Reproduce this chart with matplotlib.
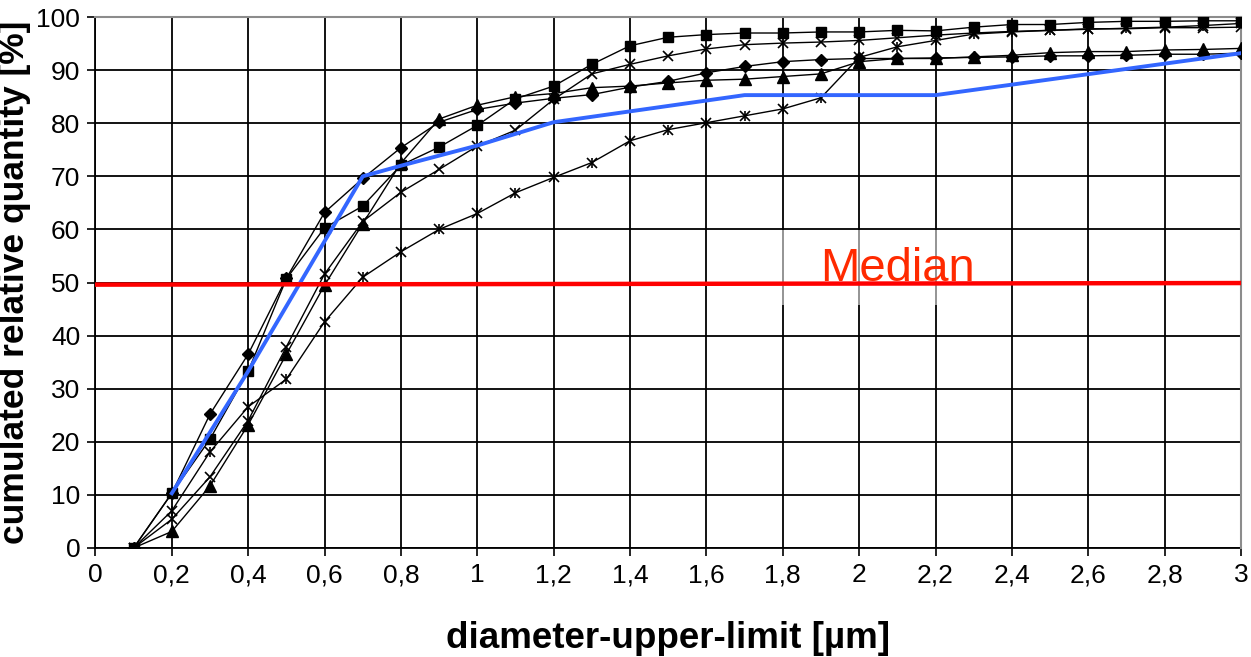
import matplotlib
matplotlib.use("Agg")
import matplotlib.pyplot as plt
from matplotlib.patches import Rectangle
from matplotlib.ticker import MultipleLocator, FuncFormatter

plt.rcParams['font.family'] = ['Liberation Sans', 'DejaVu Sans']

# Durchmesser-Obergrenzen [µm]
diameter = [0.1, 0.2, 0.3, 0.4, 0.5, 0.6, 0.7, 0.8, 0.9, 1.0,
            1.1, 1.2, 1.3, 1.4, 1.5, 1.6, 1.7, 1.8, 1.9, 2.0,
            2.1, 2.2, 2.3, 2.4, 2.5, 2.6, 2.7, 2.8, 2.9, 3.0]

# kumulierte Anteile [%] der einzelnen Messreihen
diamond_vals = [0, 10.3, 25.2, 36.5, 50.8, 63.2, 69.6, 75.4, 80.2, 82.6,
                83.8, 84.7, 85.4, 86.8, 87.9, 89.5, 90.7, 91.6, 92.0, 92.2,
                92.2, 92.3, 92.4, 92.5, 92.7, 92.7, 92.8, 93.0, 93.0, 93.2]
square_vals = [0, 10.3, 20.5, 33.3, 50.7, 60.3, 64.4, 72.1, 75.5, 79.6,
               84.6, 87.0, 91.1, 94.6, 96.2, 96.7, 97.0, 97.0, 97.2, 97.2,
               97.5, 97.4, 98.1, 98.6, 98.6, 99.0, 99.2, 99.2, 99.3, 99.3]
triangle_vals = [0, 3.1, 11.7, 23.2, 36.5, 49.5, 61.1, 72.5, 80.8, 83.4,
                 85.0, 85.6, 86.7, 87.0, 87.6, 88.1, 88.3, 88.8, 89.3, 91.6,
                 92.2, 92.2, 92.5, 92.8, 93.3, 93.5, 93.5, 93.8, 93.9, 94.1]
cross_vals = [0, 5.4, 13.4, 24.0, 37.9, 51.6, 61.5, 67.0, 71.3, 75.7,
              78.7, 84.5, 89.3, 91.1, 92.7, 94.0, 94.8, 95.1, 95.3, 95.6,
              96.1, 96.6, 97.0, 97.3, 97.5, 97.8, 97.8, 98.0, 98.0, 98.1]
star_vals = [0, 7.0, 18.1, 26.6, 31.8, 42.6, 51.0, 55.8, 60.0, 63.0,
             66.9, 69.8, 72.6, 76.7, 78.8, 80.1, 81.4, 82.7, 84.8, 92.4,
             94.4, 95.6, 96.8, 97.2, 97.5, 97.7, 97.9, 98.1, 98.4, 98.8]

# Mittelwertkurve (blau)
mean_x = [0.2, 0.4, 0.7, 0.8, 1.0, 1.2, 1.7, 2.2, 3.0]
mean_y = [10.3, 33.3, 70.0, 72.0, 75.8, 80.2, 85.3, 85.3, 93.2]

# Median-Linie
median_x = [0, 3]
median_y = [49.6, 49.9]

fig = plt.figure(figsize=(12.51, 6.57), dpi=100)
ax = fig.add_axes([0.0763, 0.166, 0.9157, 0.808])

ax.plot(diameter, diamond_vals, color='black', lw=1, marker='D', ms=6.5, zorder=4)
ax.plot(diameter, square_vals, color='black', lw=1, marker='s', ms=7.5, zorder=4)
ax.plot(diameter, triangle_vals, color='black', lw=1, marker='^', ms=8, zorder=4)
ax.plot(diameter, cross_vals, color='black', lw=1, marker='x', ms=7, mew=1.2, zorder=4)
ax.plot(diameter, star_vals, color='black', lw=1, marker='x', ms=7, mew=1.2, zorder=4)
ax.plot(diameter, star_vals, color='black', lw=0, marker='|', ms=7, mew=1.2, zorder=4)

ax.plot(mean_x, mean_y, color='#3366ff', lw=2.8, zorder=5)
ax.plot(median_x, median_y, color='#ff0000', lw=3.2, zorder=5)

# halbtransparenter Kasten hinter der Beschriftung
ax.add_patch(Rectangle((1.793, 45.8), 0.563, 14.1, facecolor='white',
                       edgecolor='none', alpha=0.55, zorder=2))
ax.text(2.1, 50.3, 'Median', color='#ff2a00', fontsize=34, ha='center',
        va='baseline', zorder=3)

ax.set_xlim(0, 3)
ax.set_ylim(0, 100)
ax.xaxis.set_major_locator(MultipleLocator(0.2))
ax.yaxis.set_major_locator(MultipleLocator(10))
ax.xaxis.set_major_formatter(FuncFormatter(lambda v, p: ('%g' % round(v, 1)).replace('.', ',')))
ax.grid(True, color='black', lw=1.3, zorder=1)
ax.set_axisbelow(True)
ax.tick_params(direction='out', length=6, width=1.2, labelsize=19, pad=5)

for side in ['top', 'right']:
    ax.spines[side].set_color('#8c8c8c')
    ax.spines[side].set_linewidth(1.5)
    ax.spines[side].set_zorder(3)
ax.spines['left'].set_linewidth(1.3)
ax.spines['bottom'].set_linewidth(1.3)

ax.set_xlabel('diameter-upper-limit [µm]', fontsize=26.5, fontweight='bold', labelpad=24)
ax.set_ylabel('cumulated relative quantity [%]', fontsize=25.5, fontweight='bold', labelpad=4)

fig.savefig('out.png', dpi=100)
